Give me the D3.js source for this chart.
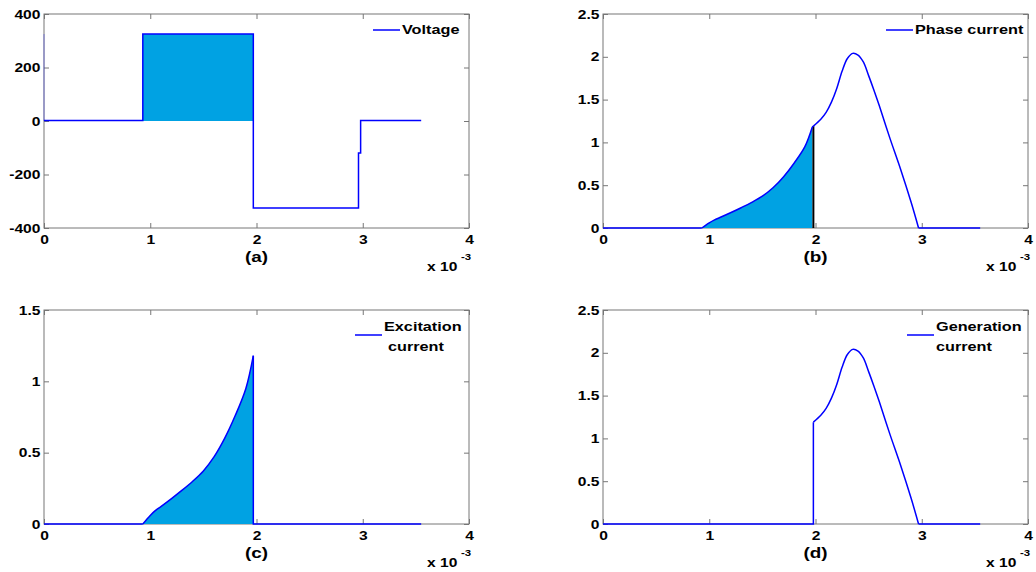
<!DOCTYPE html>
<html>
<head>
<meta charset="utf-8">
<script src="https://cdn.jsdelivr.net/npm/d3@7"></script>
<style>
  body { margin: 0; background: #fff; }
  svg { display: block; }
</style>
</head>
<body>
<svg id="chart" width="1036" height="572"></svg>
<script>
// time axis is in units of 1e-3 s
var tTicks = [0, 1, 2, 3, 4];
var tEnd = 3.55;

// voltage (a)
var voltT = [0, 0.93, 0.93, 1.97, 1.97, 2.96, 2.96, 2.98, 2.98, 3.55];
var voltV = [2, 2, 325, 325, -325, -325, -120, -120, 2, 2];
var voltTicks = [-400, -200, 0, 200, 400];

// excitation current (c), rising part
var excT = [0.93, 1.0, 1.05, 1.1, 1.2, 1.3, 1.4, 1.5, 1.6, 1.7, 1.8, 1.9, 1.97];
var excI = [0, 0.06, 0.095, 0.122, 0.178, 0.237, 0.3, 0.372, 0.47, 0.6, 0.76, 0.95, 1.18];

// generation current (d), after switch-off
var genT = [1.98, 2.05, 2.1, 2.15, 2.2, 2.25, 2.3, 2.35, 2.4, 2.45, 2.5, 2.55, 2.6, 2.7, 2.8, 2.9, 2.97];
var genI = [1.19, 1.27, 1.35, 1.47, 1.63, 1.83, 1.98, 2.04, 2.02, 1.94, 1.78, 1.61, 1.43, 1.05, 0.69, 0.3, 0];

var curTicks25 = [0, 0.5, 1, 1.5, 2, 2.5];
var curTicks15 = [0, 0.5, 1, 1.5];

var blue = "#0000ff";
var fillCol = "#00a2e3";
var font = "'Liberation Sans', Arial, sans-serif";
var sx = 1.2; // the source figure is stretched horizontally

var svg = d3.select("#chart");

function zip(a, b) { return a.map((v, i) => [v, b[i]]); }

function stxt(g, x, y, str, size, anchor, stretch) {
  return g.append("text")
    .attr("transform", `translate(${x},${y}) scale(${stretch || 1.3},1)`)
    .attr("font-family", font)
    .attr("font-weight", "bold")
    .attr("font-size", size)
    .attr("text-anchor", anchor || "start")
    .attr("fill", "#000")
    .text(str);
}

function panel(opt) {
  var x0 = opt.x0, y0 = opt.y0, w = 425, h = 214;
  var x = d3.scaleLinear().domain([0, 4]).range([x0, x0 + w]);
  var y = d3.scaleLinear().domain(opt.yDomain).range([y0 + h, y0]);
  var g = svg.append("g");
  var fmt = d => String(d);

  // ticks and labels
  var ax = g.append("g").attr("transform", `translate(0,${y0 + h})`)
    .call(d3.axisBottom(x).tickValues(tTicks).tickSize(-5).tickPadding(7).tickFormat(fmt));
  var ay = g.append("g").attr("transform", `translate(${x0},0)`)
    .call(d3.axisLeft(y).tickValues(opt.yTicks).tickSize(-5).tickPadding(3).tickFormat(fmt));
  g.append("g").attr("transform", `translate(0,${y0})`)
    .call(d3.axisTop(x).tickValues(tTicks).tickSize(-5).tickFormat(""));
  g.append("g").attr("transform", `translate(${x0 + w},0)`)
    .call(d3.axisRight(y).tickValues(opt.yTicks).tickSize(-5).tickFormat(""));
  g.selectAll(".domain").remove();
  g.selectAll(".tick line").attr("stroke", "#777");
  [ax, ay].forEach(a => a.selectAll("text")
    .attr("font-family", font).attr("font-weight", "bold")
    .attr("font-size", 13).attr("fill", "#000")
    .attr("transform", `scale(${sx},1)`));

  g.append("rect").attr("x", x0).attr("y", y0).attr("width", w).attr("height", h)
    .attr("fill", "none").attr("stroke", "#777").attr("stroke-width", 1);

  // data layer
  var line = d3.line().x(d => x(d[0])).y(d => y(d[1]));
  var smooth = d3.line().x(d => x(d[0])).y(d => y(d[1])).curve(d3.curveCatmullRom.alpha(0.5));
  var plot = g.append("g");
  opt.draw(plot, x, y, line, smooth);

  // legend
  var ly = opt.legendY;
  plot.append("line").attr("x1", opt.legendX).attr("x2", opt.legendX + 27)
    .attr("y1", y0 + ly).attr("y2", y0 + ly)
    .attr("stroke", blue).attr("stroke-width", 1.5);
  opt.legend.forEach((s, i) => {
    stxt(g, opt.legendX + 29 + (opt.legendIndent[i] || 0), y0 + ly + 4 + i * 20 - (opt.legend.length > 1 ? 8 : 0), s, 12.5);
  });

  // caption and exponent
  stxt(g, x(2), y0 + h + 34, opt.caption, 14, "middle", 1.35);
  stxt(g, x0 + w - 42, y0 + h + 43, "x 10", 13, "start", 1.2);
  stxt(g, x0 + w - 8, y0 + h + 32, "-3", 9.5, "start", 1.2);
}

var excPts = zip(excT, excI);
var genPts = zip(genT, genI);

function areaUnder(x, y) {
  return d3.area().x(d => x(d[0])).y0(y(0)).y1(d => y(d[1])).curve(d3.curveCatmullRom.alpha(0.5));
}

function strokeAll(p, ds, col, wdt) {
  ds.forEach(d => p.append("path").attr("d", d).attr("fill", "none")
    .attr("stroke", col || blue).attr("stroke-width", wdt || 1.5));
}

// (a) Voltage
panel({
  x0: 44, y0: 14, yDomain: [-400, 400], yTicks: voltTicks, caption: "(a)",
  legend: ["Voltage"], legendX: 373, legendY: 16, legendIndent: [0],
  draw: function (p, x, y, line) {
    p.append("rect").attr("x", x(voltT[1])).attr("y", y(voltV[2]))
      .attr("width", x(voltT[3]) - x(voltT[1])).attr("height", y(0) - y(voltV[2]))
      .attr("fill", fillCol);
    p.append("path").attr("d", line([[0, 0], [0, voltV[2]]]))
      .attr("stroke", blue).attr("stroke-opacity", 0.35).attr("fill", "none");
    strokeAll(p, [line(zip(voltT, voltV))]);
  }
});

// (b) Phase current
panel({
  x0: 603, y0: 14, yDomain: [0, 2.5], yTicks: curTicks25, caption: "(b)",
  legend: ["Phase current"], legendX: 886, legendY: 16, legendIndent: [0],
  draw: function (p, x, y, line, smooth) {
    p.append("path").attr("d", areaUnder(x, y)(excPts)).attr("fill", fillCol);
    p.append("line").attr("x1", x(genT[0])).attr("x2", x(genT[0]))
      .attr("y1", y(0)).attr("y2", y(genI[0])).attr("stroke", "#000").attr("stroke-width", 2);
    strokeAll(p, [line([[0, 0], excPts[0]]), smooth(excPts),
      line([excPts[excPts.length - 1], genPts[0]]), smooth(genPts),
      line([genPts[genPts.length - 1], [tEnd, 0]])]);
  }
});

// (c) Excitation current
panel({
  x0: 44, y0: 310, yDomain: [0, 1.5], yTicks: curTicks15, caption: "(c)",
  legend: ["Excitation", "current"], legendX: 355, legendY: 25, legendIndent: [0, 4],
  draw: function (p, x, y, line, smooth) {
    p.append("path").attr("d", areaUnder(x, y)(excPts)).attr("fill", fillCol);
    var last = excPts[excPts.length - 1];
    strokeAll(p, [line([[0, 0], excPts[0]]), smooth(excPts), line([last, [last[0], 0], [tEnd, 0]])]);
  }
});

// (d) Generation current
panel({
  x0: 603, y0: 310, yDomain: [0, 2.5], yTicks: curTicks25, caption: "(d)",
  legend: ["Generation", "current"], legendX: 907, legendY: 25, legendIndent: [0, 0],
  draw: function (p, x, y, line, smooth) {
    var first = genPts[0];
    strokeAll(p, [line([[0, 0], [first[0], 0], first]), smooth(genPts),
      line([genPts[genPts.length - 1], [tEnd, 0]])]);
  }
});
</script>
</body>
</html>
